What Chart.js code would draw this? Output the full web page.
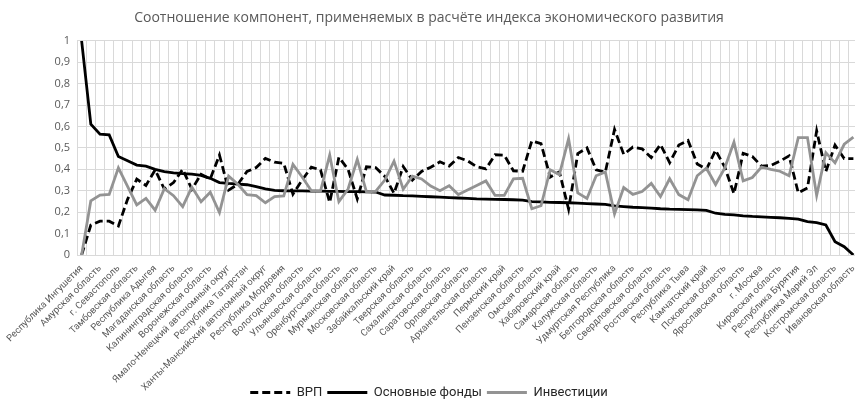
<!DOCTYPE html>
<html>
<head>
<meta charset="utf-8">
<script src="https://cdn.jsdelivr.net/npm/chart.js@4"></script>
<style>
  body { margin: 0; overflow: hidden; background: #fff; }
  #wrap { width: 870px; height: 409px; }
</style>
</head>
<body>
<div id="wrap"><canvas id="myChart" width="870" height="409"></canvas></div>
<script>
// подписи, которые видны на оси (каждая вторая категория)
const shownRegions = ['Республика Ингушетия', 'Амурская область', 'г. Севастополь', 'Тамбовская область',
  'Республика Адыгея', 'Магаданская область', 'Калининградская область', 'Воронежская область',
  'Ямало-Ненецкий автономный округ', 'Республика Татарстан', 'Ханты-Мансийский автономный округ',
  'Республика Мордовия', 'Вологодская область', 'Ульяновская область', 'Оренбургская область',
  'Мурманская область', 'Московская область', 'Забайкальский край', 'Тверская область',
  'Сахалинская область', 'Саратовская область', 'Орловская область', 'Архангельская область',
  'Пермский край', 'Пензенская область', 'Омская область', 'Хабаровский край', 'Самарская область',
  'Калужская область', 'Удмуртская Республика', 'Белгородская область', 'Свердловская область',
  'Ростовская область', 'Республика Тыва', 'Камчатский край', 'Псковская область',
  'Ярославская область', 'г. Москва', 'Кировская область', 'Республика Бурятия',
  'Республика Марий Эл', 'Костромская область', 'Ивановская область']

const vrp = [0, 0.14, 0.158, 0.158, 0.135, 0.26, 0.354, 0.325, 0.397, 0.308,
  0.338, 0.40, 0.307, 0.377, 0.355, 0.467, 0.303, 0.33, 0.39, 0.408,
  0.451, 0.433, 0.428, 0.284, 0.35, 0.41, 0.397, 0.245, 0.456, 0.40,
  0.262, 0.412, 0.408, 0.367, 0.288, 0.413, 0.35, 0.39, 0.41, 0.435,
  0.415, 0.455, 0.44, 0.412, 0.402, 0.468, 0.466, 0.393, 0.391, 0.533,
  0.52, 0.364, 0.388, 0.214, 0.473, 0.50, 0.398, 0.387, 0.586, 0.47,
  0.504, 0.496, 0.455, 0.516, 0.431, 0.513, 0.535, 0.425, 0.40, 0.489,
  0.41, 0.286, 0.475, 0.46, 0.415, 0.418, 0.438, 0.463, 0.29, 0.313,
  0.58, 0.39, 0.513, 0.45, 0.45]

const osnFondy = [1.0, 0.611, 0.564, 0.561, 0.46, 0.44, 0.42, 0.415, 0.40, 0.389,
  0.383, 0.38, 0.378, 0.372, 0.358, 0.338, 0.334, 0.331, 0.328, 0.319,
  0.309, 0.302, 0.30, 0.299, 0.299, 0.298, 0.298, 0.297, 0.297, 0.296,
  0.296, 0.295, 0.294, 0.28, 0.279, 0.277, 0.276, 0.274, 0.272, 0.27,
  0.268, 0.266, 0.264, 0.262, 0.261, 0.26, 0.259, 0.258, 0.256, 0.249,
  0.248, 0.246, 0.245, 0.244, 0.242, 0.24, 0.238, 0.236, 0.229, 0.226,
  0.223, 0.221, 0.219, 0.216, 0.214, 0.213, 0.212, 0.211, 0.208, 0.195,
  0.19, 0.187, 0.183, 0.18, 0.178, 0.176, 0.174, 0.171, 0.167, 0.156,
  0.151, 0.14, 0.062, 0.039, 0]

const investicii = [0, 0.253, 0.28, 0.283, 0.407, 0.32, 0.234, 0.264, 0.209, 0.31,
  0.277, 0.226, 0.317, 0.249, 0.293, 0.198, 0.368, 0.33, 0.282, 0.277,
  0.244, 0.273, 0.276, 0.423, 0.364, 0.30, 0.298, 0.466, 0.249, 0.308,
  0.446, 0.295, 0.297, 0.35, 0.438, 0.307, 0.368, 0.355, 0.322, 0.30,
  0.323, 0.282, 0.303, 0.325, 0.346, 0.278, 0.278, 0.356, 0.358, 0.216,
  0.23, 0.398, 0.375, 0.543, 0.29, 0.264, 0.37, 0.388, 0.192, 0.315,
  0.283, 0.296, 0.334, 0.273, 0.356, 0.282, 0.258, 0.37, 0.405, 0.329,
  0.407, 0.527, 0.346, 0.362, 0.411, 0.40, 0.391, 0.37, 0.548, 0.548,
  0.278, 0.478, 0.43, 0.517, 0.55]

// остальные названия на оси не видны
const labels = []
shownRegions.forEach((r, i) => {
  labels.push(r)
  if (i < shownRegions.length - 1) labels.push('')
})

Chart.defaults.font.family = "'Open Sans', sans-serif"
Chart.defaults.color = '#595959'

const gridColor = '#d9d9d9'

let ctx = document.getElementById('myChart').getContext('2d')
let myChart = new Chart(ctx, {
  type: 'line',
  data: {
    labels: labels,
    datasets: [{
      label: 'ВРП',
      data: vrp,
      borderColor: '#000',
      backgroundColor: 'transparent',
      borderWidth: 2.8,
      borderDash: [8, 4],
      fill: false,
      order: 3
    }, {
      label: 'Основные фонды',
      data: osnFondy,
      borderColor: '#000',
      backgroundColor: 'transparent',
      borderWidth: 2.8,
      fill: false,
      order: 2
    }, {
      label: 'Инвестиции',
      data: investicii,
      borderColor: '#939393',
      backgroundColor: 'transparent',
      borderWidth: 2.8,
      fill: false,
      order: 1
    }]
  },
  options: {
    responsive: false,
    animation: false,
    layout: { padding: { left: 0, right: 12, top: 0, bottom: 0 } },
    elements: {
      point: { radius: 0 },
      line: { tension: 0, borderCapStyle: 'butt' }
    },
    plugins: {
      title: {
        display: true,
        text: 'Соотношение компонент, применяемых в расчёте индекса экономического развития',
        font: { size: 14, weight: 'normal' },
        color: '#595959',
        padding: { top: 10, bottom: 14 }
      },
      legend: {
        position: 'bottom',
        labels: {
          boxWidth: 40,
          boxHeight: 0,
          font: { family: 'Roboto', size: 13 },
          color: '#262626',
          padding: 5,
          sort: (a, b) => a.datasetIndex - b.datasetIndex
        }
      },
      tooltip: { enabled: false }
    },
    scales: {
      x: {
        offset: true,
        grid: { offset: true, color: gridColor, drawTicks: false },
        border: { color: gridColor },
        ticks: {
          autoSkip: false,
          maxRotation: 45,
          minRotation: 45,
          padding: 8,
          font: { family: 'Roboto', size: 9.5 }
        },
        afterFit: (scale) => {
          scale.height = 126
          // длинные подписи уходят ниже оси, не обрезаем их
          scale._computeLabelArea = () => null
        }
      },
      y: {
        min: 0,
        max: 1,
        grid: { color: gridColor, drawTicks: false },
        border: { color: gridColor },
        ticks: {
          stepSize: 0.1,
          padding: 7,
          font: { size: 11 },
          callback: (v) => (Math.round(v * 10) / 10).toString().replace('.', ',')
        },
        afterFit: (scale) => { scale.width = 77 }
      }
    }
  }
})
</script>
</body>
</html>
